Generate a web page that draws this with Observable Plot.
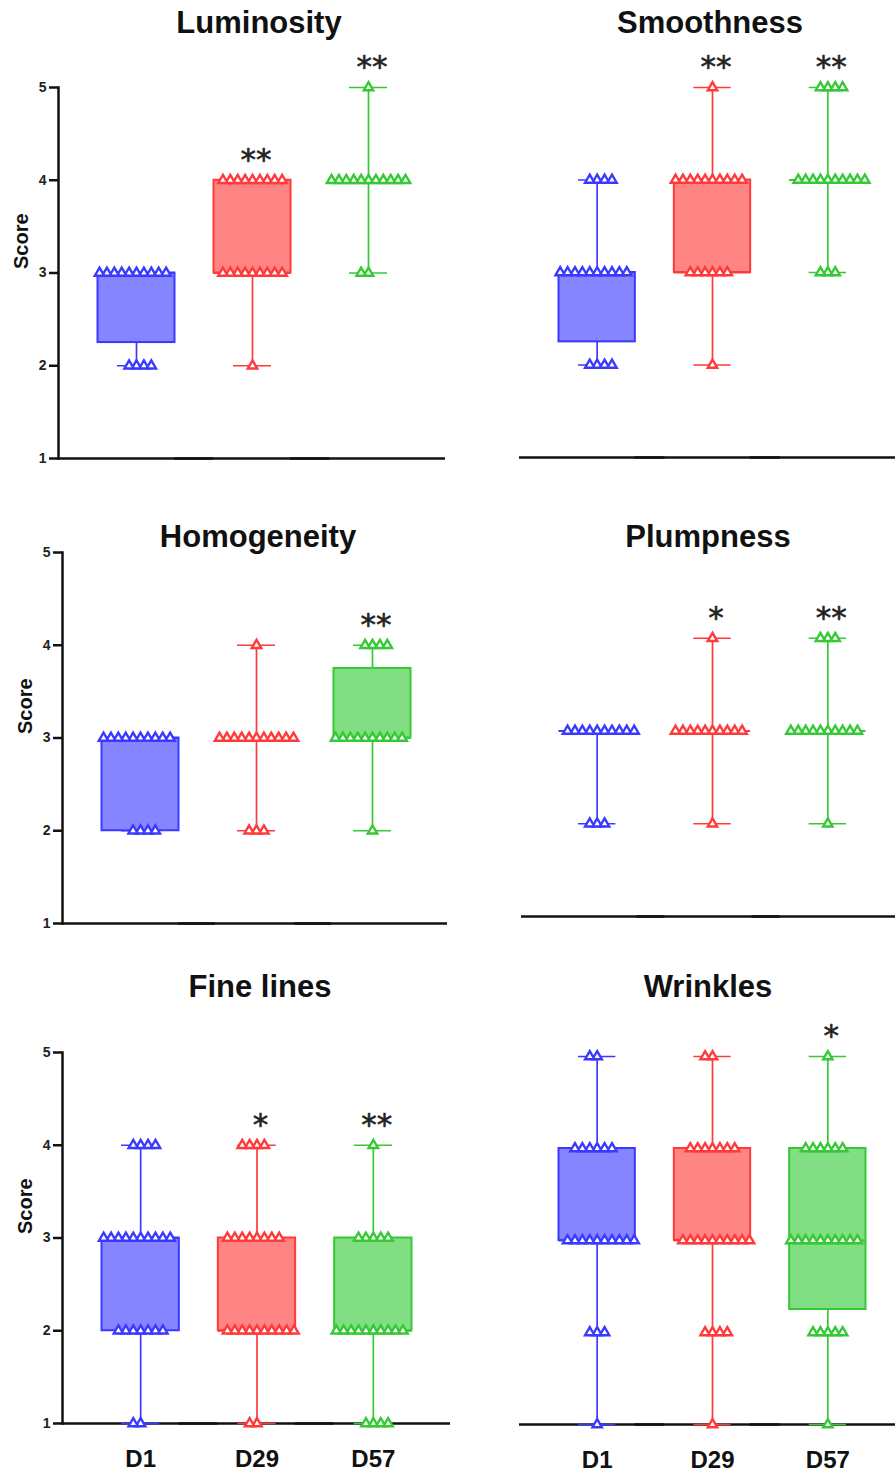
<!DOCTYPE html>
<html>
<head>
<meta charset="utf-8">
<script src="https://cdn.jsdelivr.net/npm/d3@7"></script>
<script src="https://cdn.jsdelivr.net/npm/@observablehq/plot@0.6"></script>
<style>
  body { margin: 0; background: #fff; }
  #chart { position: relative; width: 895px; height: 1480px; font-family: "Liberation Sans", Arial, sans-serif; }
  .title { position: absolute; width: 400px; text-align: center; font-weight: bold; font-size: 31px; line-height: 31px; color: #111; white-space: nowrap; }
  .panel { position: absolute; }
  .panel svg { background: transparent !important; overflow: visible; }
  g[aria-label="stars"] text { letter-spacing: 7px; }
  g[aria-label="y-axis tick label"] text, g[aria-label="y-axis tick label"] { font-weight: bold; }
</style>
</head>
<body>
<div id="chart"></div>
<script>
// ---------- data ----------
const groups = ["D1", "D29", "D57"];
const titles = ["Luminosity", "Smoothness", "Homogeneity", "Plumpness", "Fine lines", "Wrinkles"];
const scores = [1, 2, 3, 4, 5];
const scoreTicks = [1, 2, 3, 4, 5];
const yLabel = "Score";

// box summaries per group: [min, Q1, median, Q3, max]
const luminosityBox   = [[2, 2.25, 3, 3, 3], [2, 3, 3, 4, 4], [3, 4, 4, 4, 5]];
const smoothnessBox   = [[2, 2.25, 3, 3, 4], [2, 3, 3, 4, 5], [3, 4, 4, 4, 5]];
const homogeneityBox  = [[2, 2, 3, 3, 3], [2, 3, 3, 3, 4], [2, 3, 3, 3.75, 4]];
const plumpnessBox    = [[2, 3, 3, 3, 3], [2, 3, 3, 3, 4], [2, 3, 3, 3, 4]];
const fineLinesBox    = [[1, 2, 3, 3, 4], [1, 2, 2, 3, 4], [1, 2, 2, 3, 4]];
const wrinklesBox     = [[1, 3, 3, 4, 5], [1, 3, 3, 4, 5], [1, 2.25, 3, 4, 5]];

// number of subjects at score 1..5, per group
const luminosityCounts  = [[0, 4, 10, 0, 0], [0, 1, 9, 9, 0], [0, 0, 2, 11, 1]];
const smoothnessCounts  = [[0, 4, 10, 4, 0], [0, 1, 6, 10, 1], [0, 0, 3, 10, 4]];
const homogeneityCounts = [[0, 4, 10, 0, 0], [0, 3, 11, 1, 0], [0, 1, 10, 4, 0]];
const plumpnessCounts   = [[0, 3, 10, 0, 0], [0, 1, 10, 1, 0], [0, 1, 10, 3, 0]];
const fineLinesCounts   = [[2, 7, 10, 4, 0], [2, 10, 8, 4, 0], [4, 10, 5, 1, 0]];
const wrinklesCounts    = [[1, 3, 10, 6, 2], [1, 4, 10, 7, 2], [1, 5, 10, 6, 1]];

// significance marks per group
const luminosityStars  = ["", "**", "**"];
const smoothnessStars  = ["", "**", "**"];
const homogeneityStars = ["", "", "**"];
const plumpnessStars   = ["", "*", "**"];
const fineLinesStars   = ["", "*", "**"];
const wrinklesStars    = ["", "", "*"];

// ---------- styles / layout ----------
const strokeColors = ["#3a3aff", "#ff3a3a", "#36c936"];
const panels = [
  {box: luminosityBox,  counts: luminosityCounts,  stars: luminosityStars},
  {box: smoothnessBox,  counts: smoothnessCounts,  stars: smoothnessStars},
  {box: homogeneityBox, counts: homogeneityCounts, stars: homogeneityStars},
  {box: plumpnessBox,   counts: plumpnessCounts,   stars: plumpnessStars},
  {box: fineLinesBox,   counts: fineLinesCounts,   stars: fineLinesStars},
  {box: wrinklesBox,    counts: wrinklesCounts,    stars: wrinklesStars}
];
const layouts = [
  {left: 0,   top: 40,   width: 445, height: 438, mt: 47, mb: 20, ml: 78, mr: 19, yAxis: true,  xLabels: false, baseL: -20, baseR: -19, titleX: 259, titleTop: 7},
  {left: 445, top: 40,   width: 450, height: 437, mt: 47, mb: 20, ml: 94, mr: 10, yAxis: false, xLabels: false, baseL: -20, baseR: -10, titleX: 710, titleTop: 7},
  {left: 0,   top: 500,  width: 447, height: 443, mt: 52, mb: 20, ml: 82, mr: 17, yAxis: true,  xLabels: false, baseL: -20, baseR: -17, titleX: 258, titleTop: 521},
  {left: 445, top: 500,  width: 450, height: 436, mt: 45, mb: 20, ml: 94, mr: 10, yAxis: false, xLabels: false, baseL: -18, baseR: -10, titleX: 708, titleTop: 521},
  {left: 0,   top: 1010, width: 450, height: 470, mt: 42, mb: 57, ml: 82, mr: 19, yAxis: true,  xLabels: true,  baseL: -20, baseR: -19, titleX: 260, titleTop: 971},
  {left: 445, top: 1010, width: 450, height: 470, mt: 46, mb: 56, ml: 94, mr: 10, yAxis: false, xLabels: true,  baseL: -20, baseR: -10, titleX: 708, titleTop: 971}
];

function boxesFrom(box, stars) {
  return box.map(([min, q1, med, q3, max], gi) => ({group: groups[gi], min, q1, med, q3, max, star: stars[gi]}));
}
function pointsFrom(counts) {
  const pts = [];
  counts.forEach((row, gi) => row.forEach((n, si) => {
    for (let k = 0; k < n; ++k) pts.push({group: groups[gi], score: scores[si]});
  }));
  return pts;
}

const chart = document.getElementById("chart");

panels.forEach((p, i) => {
  const L = layouts[i];
  const boxes = boxesFrom(p.box, p.stars);
  const points = pointsFrom(p.counts);

  const marks = [
    // baseline (x axis line)
    Plot.ruleY([1], {stroke: "#111", strokeWidth: 2.5, insetLeft: L.baseL, insetRight: L.baseR}),
    // whiskers
    Plot.ruleX(boxes, {fx: "group", x: null, y1: "min", y2: "q1", stroke: "group", strokeWidth: 1.7}),
    Plot.ruleX(boxes, {fx: "group", x: null, y1: "q3", y2: "max", stroke: "group", strokeWidth: 1.7}),
    // whisker caps
    Plot.tickY(boxes, {fx: "group", y: "min", stroke: "group", strokeWidth: 1.7, insetLeft: 39, insetRight: 39}),
    Plot.tickY(boxes, {fx: "group", y: "max", stroke: "group", strokeWidth: 1.7, insetLeft: 39, insetRight: 39}),
    // boxes
    Plot.barY(boxes, {fx: "group", y1: "q1", y2: "q3", fill: "group", fillOpacity: 0.62, stroke: "group", strokeWidth: 2, insetLeft: 19.5, insetRight: 19.5}),
    // median
    Plot.tickY(boxes, {fx: "group", y: "med", stroke: "group", strokeWidth: 2, insetLeft: 19.5, insetRight: 19.5}),
    // individual scores
    Plot.dot(points, Plot.dodgeX({anchor: "middle", padding: 0.4}, {fx: "group", y: "score", r: 3.5, symbol: "triangle", fill: "white", stroke: "group", strokeWidth: 2.4})),
    // significance
    Plot.text(boxes, {fx: "group", y: "max", text: "star", dy: -20, dx: 3.5, fontSize: 31, fontFamily: "DejaVu Sans", fill: "#222", stroke: "#222", strokeWidth: 0.6, ariaLabel: "stars"})
  ];

  if (L.yAxis) {
    marks.push(
      Plot.frame({anchor: "left", facetAnchor: "left", dx: -20, stroke: "#111", strokeWidth: 2.5}),
      Plot.axisY(scoreTicks, {anchor: "left", dx: -20, tickSize: 9, tickPadding: 3, tickFormat: d => String(d), fontSize: 14, fontWeight: "bold", stroke: "#111", strokeWidth: 2.5, fill: "#222", label: null}),
      Plot.text([yLabel], {frameAnchor: "left", facetAnchor: "left", rotate: -90, dx: -57, dy: -4, fontSize: 20, fontWeight: "bold", fill: "#111"})
    );
  }
  if (L.xLabels) {
    marks.push(Plot.text(groups, {fx: d => d, frameAnchor: "bottom", dy: 43, fontSize: 24, fontWeight: "bold", fill: "#111"}));
  }

  const svg = Plot.plot({
    width: L.width,
    height: L.height,
    marginTop: L.mt,
    marginBottom: L.mb,
    marginLeft: L.ml,
    marginRight: L.mr,
    style: {fontFamily: "'Liberation Sans', Arial, sans-serif", background: "transparent", overflow: "visible"},
    fx: {domain: groups, padding: 0, round: false, axis: null, label: null},
    y: {domain: [1, 5], axis: null},
    color: {domain: groups, range: strokeColors},
    marks
  });

  const div = document.createElement("div");
  div.className = "panel";
  div.style.left = L.left + "px";
  div.style.top = L.top + "px";
  div.appendChild(svg);
  chart.appendChild(div);

  const t = document.createElement("div");
  t.className = "title";
  t.textContent = titles[i];
  t.style.left = (L.titleX - 200) + "px";
  t.style.top = L.titleTop + "px";
  chart.appendChild(t);
});
</script>
</body>
</html>
